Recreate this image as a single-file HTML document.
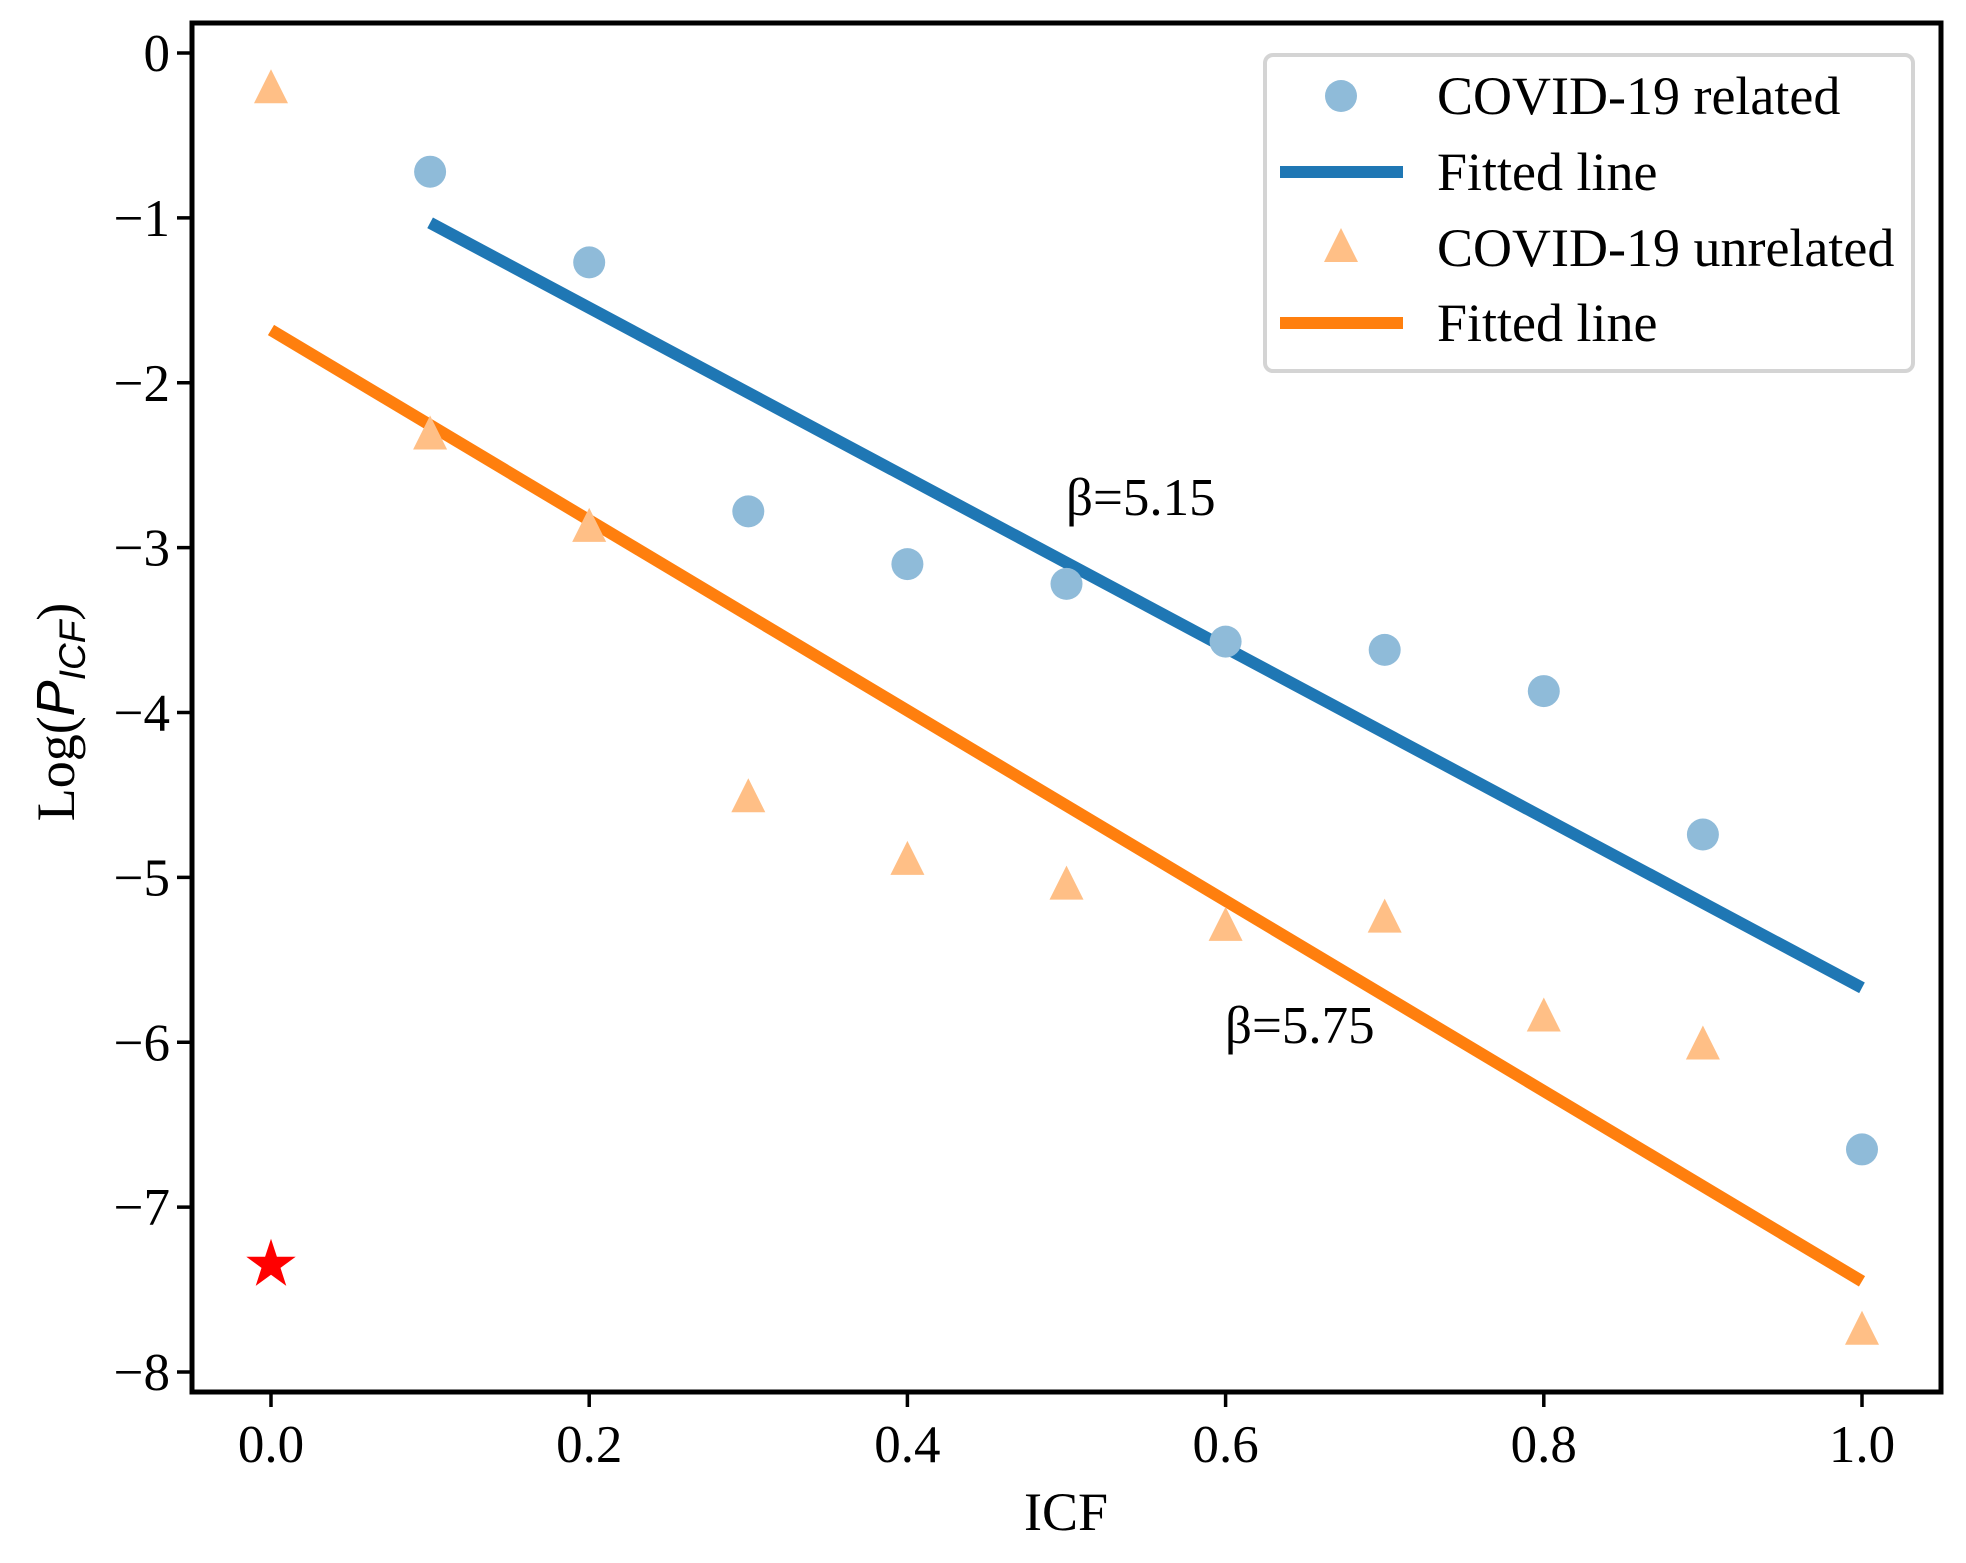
<!DOCTYPE html>
<html><head><meta charset="utf-8"><style>
html,body{margin:0;padding:0;background:#fff;}
svg{display:block;font-family:"Liberation Serif","DejaVu Serif",serif;}
</style></head><body>
<svg id="chart" width="1966" height="1563" viewBox="0 0 1966 1563" xmlns="http://www.w3.org/2000/svg"></svg>
<script>
const icfValues = [0.1,0.2,0.3,0.4,0.5,0.6,0.7,0.8,0.9,1.0];
const relatedValues = [-0.72,-1.27,-2.78,-3.10,-3.22,-3.57,-3.62,-3.87,-4.74,-6.65];
const unrelatedIcf = [0,0.1,0.2,0.3,0.4,0.5,0.6,0.7,0.8,0.9,1.0];
const unrelatedValues = [-0.22,-2.32,-2.88,-4.52,-4.90,-5.05,-5.30,-5.25,-5.85,-6.02,-7.75];
const relatedFitX = [0.1,1.0];
const relatedFitY = [-1.03,-5.67];
const unrelatedFitX = [0,1.0];
const unrelatedFitY = [-1.68,-7.45];
const starPoint = [0,-7.35];
const xTicks = [0,0.2,0.4,0.6,0.8,1.0];
const xTickLabels = ["0.0","0.2","0.4","0.6","0.8","1.0"];
const yTicks = [0,-1,-2,-3,-4,-5,-6,-7,-8];
const yTickLabels = ["0","\u22121","\u22122","\u22123","\u22124","\u22125","\u22126","\u22127","\u22128"];

const svg = document.getElementById('chart');
const NS = 'http://www.w3.org/2000/svg';
const L=192,R=1941,T=23,B=1392;
const sx = v => 271 + v*(1862-271);
const sy = v => 53 + (-v)*(1372-53)/8;
function mk(tag, attrs, parent){const e=document.createElementNS(NS,tag);for(const k in attrs)e.setAttribute(k,attrs[k]);(parent||svg).appendChild(e);return e;}

const plot = mk('g',{});



const bl = mk('line',{x1:sx(relatedFitX[0]),y1:sy(relatedFitY[0]),x2:sx(relatedFitX[1]),y2:sy(relatedFitY[1]),stroke:'#1f77b4','stroke-width':12}, plot);


const ol = mk('line',{x1:sx(unrelatedFitX[0]),y1:sy(unrelatedFitY[0]),x2:sx(unrelatedFitX[1]),y2:sy(unrelatedFitY[1]),stroke:'#ff7f0e','stroke-width':12}, plot);



icfValues.forEach((x,i)=>{
  const c = mk('circle',{cx:sx(x),cy:sy(relatedValues[i]),r:16,fill:'#8fbbd9'}, plot);
  
  
});
unrelatedIcf.forEach((x,i)=>{
  const cx=sx(x), cy=sy(unrelatedValues[i]);
  const p = mk('polygon',{points:`${cx},${cy-20} ${cx-17},${cy+14} ${cx+17},${cy+14}`,fill:'#ffbf86'}, plot);
  
  
});
(function(){
  const cx=sx(starPoint[0]), cy=sy(starPoint[1]); let pts=[];
  for(let k=0;k<10;k++){const r=k%2?10:26;const a=-Math.PI/2+k*Math.PI/5;pts.push((cx+r*Math.cos(a)).toFixed(1)+','+(cy+r*Math.sin(a)).toFixed(1));}
  const s=mk('polygon',{points:pts.join(' '),fill:'#ff0000'}, plot);
  
  
})();

const a1=mk('text',{x:1066,y:515,'font-size':53},plot); a1.textContent='β=5.15';


const a2=mk('text',{x:1225,y:1043,'font-size':53},plot); a2.textContent='β=5.75';



const fr=mk('rect',{x:L,y:T,width:R-L,height:B-T,fill:'none',stroke:'#000','stroke-width':5});



xTicks.forEach((v,i)=>{
  const t=mk('line',{x1:sx(v),y1:B,x2:sx(v),y2:B+15,stroke:'#000','stroke-width':3.5});
  
  
  const tx=mk('text',{x:sx(v),y:B+70,'font-size':53,'text-anchor':'middle'});
  tx.textContent=xTickLabels[i];
  
  
});
yTicks.forEach((v,i)=>{
  const t=mk('line',{x1:L-15,y1:sy(v),x2:L,y2:sy(v),stroke:'#000','stroke-width':3.5});
  
  
  const tx=mk('text',{x:L-22,y:sy(v)+18,'font-size':53,'text-anchor':'end'});
  tx.textContent=yTickLabels[i];
  
  
});

const xl=mk('text',{x:1066,y:1530,'font-size':54,'text-anchor':'middle'}); xl.textContent='ICF';


const yl=mk('text',{x:0,y:0,'font-size':54,'text-anchor':'middle',transform:'translate(74,712) rotate(-90)'});
yl.innerHTML='Log(<tspan font-family="Liberation Sans, sans-serif" font-style="italic">P</tspan><tspan font-family="Liberation Sans, sans-serif" font-style="italic" font-size="37" dy="11">ICF</tspan><tspan dy="-11">)</tspan>';



const lg=mk('g',{});


const lb=mk('rect',{x:1265,y:55,width:648,height:316,rx:8,fill:'#fff',stroke:'#d4d4d4','stroke-width':4},lg);


const rows=[96,172,248,323];
const labels=['COVID-19 related','Fitted line','COVID-19 unrelated','Fitted line'];
rows.forEach((y,i)=>{
  const g=mk('g',{},lg);
  
  
  if(i===0) mk('circle',{cx:1341,cy:y,r:16,fill:'#8fbbd9'},g);
  if(i===2) mk('polygon',{points:`1341,${y-20} 1324,${y+14} 1358,${y+14}`,fill:'#ffbf86'},g);
  if(i===1||i===3) mk('line',{x1:1280,y1:y,x2:1403,y2:y,stroke:i===1?'#1f77b4':'#ff7f0e','stroke-width':12},g);
  const t=mk('text',{x:1437,y:y+18,'font-size':54},g); t.textContent=labels[i];
});
</script>
</body></html>
